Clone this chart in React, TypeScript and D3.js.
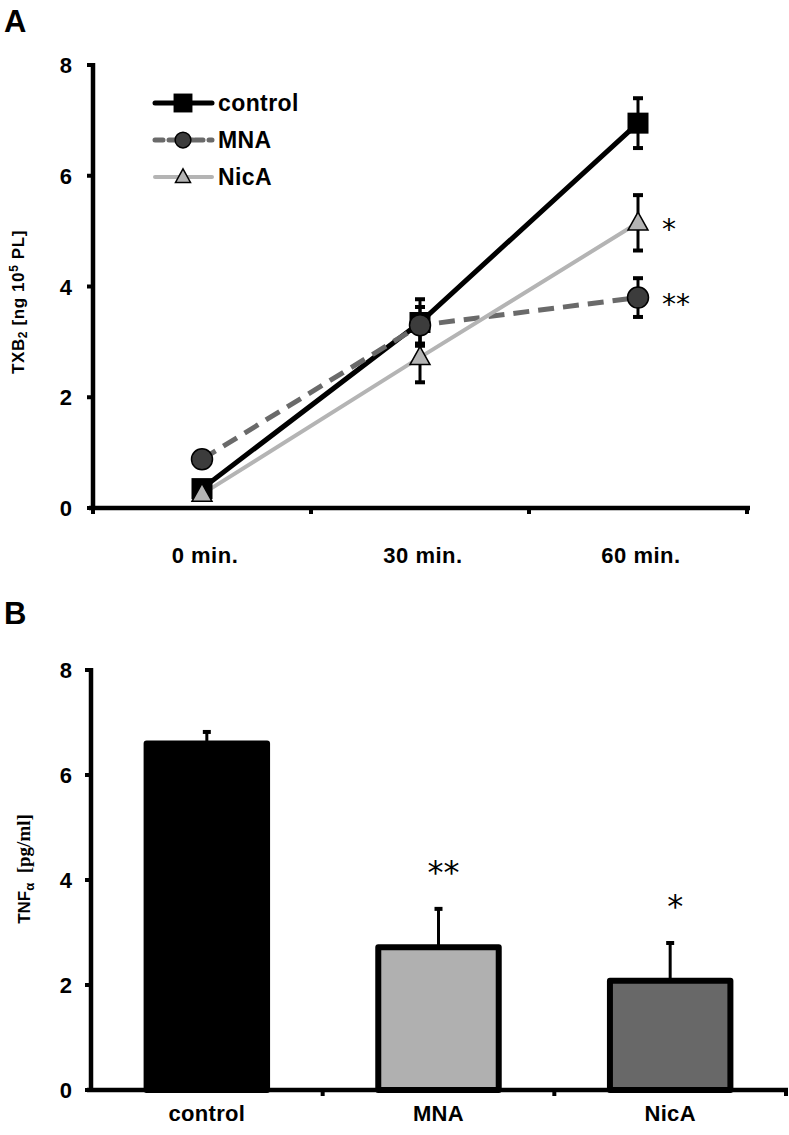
import React from "react";
import * as d3 from "d3";

const timePoints = ["0 min.", "30 min.", "60 min."];
const controlMean = [0.35, 3.35, 6.95];
const controlErr = [0, 0.42, 0.45];
const mnaMean = [0.88, 3.3, 3.8];
const mnaErr = [0, 0.33, 0.35];
const nicaMean = [0.25, 2.72, 5.15];
const nicaErr = [0, 0.45, 0.5];
const yTicksA = [0, 2, 4, 6, 8];

const groups = ["control", "MNA", "NicA"];
const tnfMean = [6.6, 2.72, 2.08];
const tnfErr = [0.22, 0.73, 0.72];
const tnfSig = ["", "**", "*"];
const yTicksB = [0, 2, 4, 6, 8];

const FONT = "Arial, 'Liberation Sans', sans-serif";

export default function App() {
  // Panel A scales
  const xA = d3.scaleBand().domain(timePoints).range([93, 747]);
  const yA = d3.scaleLinear().domain([0, 8]).range([508, 65]);
  const cx = (t: string) => (xA(t) as number) + xA.bandwidth() / 2;

  const seriesA = [
    { name: "control", mean: controlMean, err: controlErr, color: "#000", width: 5, dash: "", marker: "square", fill: "#000" },
    { name: "MNA", mean: mnaMean, err: mnaErr, color: "#6a6a6a", width: 5, dash: "16 9", marker: "circle", fill: "#3c3c3c" },
    { name: "NicA", mean: nicaMean, err: nicaErr, color: "#b4b4b4", width: 4, dash: "", marker: "triangle", fill: "#b4b4b4" },
  ];
  const sigA = [
    { series: 2, text: "*" },
    { series: 1, text: "**" },
  ];

  const line = d3
    .line<number>()
    .x((_, i) => cx(timePoints[i]))
    .y((d) => yA(d));

  const marker = (type: string, x: number, y: number, fill: string, key: string, s = 1) => {
    if (type === "square")
      return <rect key={key} x={x - 10.5 * s} y={y - 10.5 * s} width={21 * s} height={21 * s} fill="#000" />;
    if (type === "circle")
      return <circle key={key} cx={x} cy={y} r={10.5 * s} fill={fill} stroke="#000" strokeWidth={1.5} />;
    const h = 18 * s;
    const w = 10 * s;
    return (
      <path
        key={key}
        d={`M${x},${y - h * 0.6} L${x + w},${y + h * 0.4} L${x - w},${y + h * 0.4} Z`}
        fill={fill}
        stroke="#000"
        strokeWidth={1.5}
      />
    );
  };

  // Panel B scales
  const xB = d3.scaleBand().domain(groups).range([91, 786]).paddingInner(0.48).paddingOuter(0.24);
  const yB = d3.scaleLinear().domain([0, 8]).range([1090, 670]);
  const barFill = ["#000", "#b0b0b0", "#686868"];

  return (
    <svg
      width={789}
      height={1135}
      style={{ position: "absolute", left: 0, top: 0, background: "#fff" }}
      fontFamily={FONT}
    >
      {/* Panel A */}
      <text x={4} y={32} fontSize={31} fontWeight="bold">A</text>
      <text
        transform={`translate(24,302) rotate(-90)`}
        textAnchor="middle"
        fontSize={17}
        fontWeight="bold"
        letterSpacing={0.6}
      >
        TXB<tspan fontSize={12} dy={3}>2</tspan>
        <tspan dy={-3}> [ng 10</tspan>
        <tspan fontSize={12} dy={-6}>5</tspan>
        <tspan dy={6}> PL]</tspan>
      </text>

      {/* axes A */}
      <line x1={93} x2={93} y1={yA(8) - 2} y2={yA(0) + 2} stroke="#000" strokeWidth={4.5} />
      <line x1={89} x2={750} y1={yA(0)} y2={yA(0)} stroke="#000" strokeWidth={4.5} />
      {yTicksA.map((t) => (
        <g key={"ya" + t}>
          <line x1={87} x2={93} y1={yA(t)} y2={yA(t)} stroke="#000" strokeWidth={4} />
          <text x={72} y={yA(t) + 8} textAnchor="end" fontSize={22} fontWeight="bold">{t}</text>
        </g>
      ))}
      {[...timePoints.map((t) => xA(t) as number), 747].map((x, i) => (
        <line key={"xta" + i} x1={x} x2={x} y1={yA(0)} y2={yA(0) + 6} stroke="#000" strokeWidth={4} />
      ))}
      {timePoints.map((t) => (
        <text key={"xla" + t} x={cx(t) + 3} y={563} textAnchor="middle" fontSize={22} fontWeight="bold" letterSpacing={0.5}>{t}</text>
      ))}

      {/* lines */}
      {seriesA.map((s) => (
        <path
          key={"l" + s.name}
          d={line(s.mean) || ""}
          fill="none"
          stroke={s.color}
          strokeWidth={s.width}
          strokeDasharray={s.dash}
        />
      ))}
      {/* error bars */}
      {seriesA.map((s) =>
        s.mean.map((m, i) =>
          s.err[i] > 0 ? (
            <g key={"e" + s.name + i}>
              <line x1={cx(timePoints[i])} x2={cx(timePoints[i])} y1={yA(m + s.err[i])} y2={yA(m - s.err[i])} stroke="#000" strokeWidth={3} />
              <line x1={cx(timePoints[i]) - 5} x2={cx(timePoints[i]) + 5} y1={yA(m + s.err[i])} y2={yA(m + s.err[i])} stroke="#000" strokeWidth={4} />
              <line x1={cx(timePoints[i]) - 5} x2={cx(timePoints[i]) + 5} y1={yA(m - s.err[i])} y2={yA(m - s.err[i])} stroke="#000" strokeWidth={4} />
            </g>
          ) : null
        )
      )}
      {/* markers */}
      {seriesA.map((s) =>
        s.mean.map((m, i) => marker(s.marker, cx(timePoints[i]), yA(m), s.fill, "m" + s.name + i))
      )}
      {sigA.map((g) => {
        const s = seriesA[g.series];
        return (
          <text key={"sa" + g.text} x={cx(timePoints[2]) + 24} y={yA(s.mean[2]) + 16} fontSize={28} fontFamily="'DejaVu Sans', sans-serif">
            {g.text}
          </text>
        );
      })}

      {/* legend */}
      {seriesA.map((s, i) => {
        const y = 103 + i * 37;
        return (
          <g key={"lg" + s.name}>
            <line x1={155} x2={212} y1={y} y2={y} stroke={s.color} strokeWidth={s.width} strokeDasharray={s.dash ? "8 6 14 6 4 2" : ""} strokeLinecap="round" />
            {marker(s.marker, 183, y, s.fill, "lm" + s.name, s.marker === "square" ? 0.9 : 0.75)}
            <text x={218} y={y + 8} fontSize={23} fontWeight="bold" letterSpacing={0.4}>{s.name}</text>
          </g>
        );
      })}

      {/* Panel B */}
      <text x={4} y={624} fontSize={31} fontWeight="bold">B</text>
      <text transform={`translate(30,869) rotate(-90)`} textAnchor="middle" fontSize={17} fontWeight="bold">
        TNF<tspan fontSize={13} dy={4}>α</tspan>
        <tspan dy={-4} fontFamily="'Liberation Serif', 'Times New Roman', serif" fontSize={19}>{"\u00a0\u00a0[pg/ml]"}</tspan>
      </text>

      {/* bars */}
      {groups.map((g, i) => {
        const x = xB(g) as number;
        const w = xB.bandwidth();
        const cxB = x + w / 2;
        return (
          <g key={"b" + g}>
            <line x1={cxB} x2={cxB} y1={yB(tnfMean[i] + tnfErr[i])} y2={yB(tnfMean[i])} stroke="#000" strokeWidth={3} />
            <line x1={cxB - 4} x2={cxB + 4} y1={yB(tnfMean[i] + tnfErr[i])} y2={yB(tnfMean[i] + tnfErr[i])} stroke="#000" strokeWidth={4} />
            <rect x={x} y={yB(tnfMean[i])} width={w} height={yB(0) - yB(tnfMean[i])} fill={barFill[i]} stroke="#000" strokeWidth={6} strokeLinejoin="round" />
            {tnfSig[i] && (
              <text x={cxB + 5} y={yB(tnfMean[i] + tnfErr[i]) - 26} textAnchor="middle" fontSize={32} fontFamily="'DejaVu Sans', sans-serif">
                {tnfSig[i]}
              </text>
            )}
            <text x={cxB} y={1121} textAnchor="middle" fontSize={22} fontWeight="bold" letterSpacing={0.3}>{g}</text>
          </g>
        );
      })}

      {/* axes B */}
      <line x1={91} x2={91} y1={yB(8) - 2} y2={yB(0) + 2} stroke="#000" strokeWidth={4.5} />
      <line x1={87} x2={788} y1={yB(0)} y2={yB(0)} stroke="#000" strokeWidth={4.5} />
      {yTicksB.map((t) => (
        <g key={"yb" + t}>
          <line x1={85} x2={91} y1={yB(t)} y2={yB(t)} stroke="#000" strokeWidth={4} />
          <text x={72} y={yB(t) + 8} textAnchor="end" fontSize={22} fontWeight="bold">{t}</text>
        </g>
      ))}
      {[91 + (786 - 91) / 3, 91 + (2 * (786 - 91)) / 3, 786].map((x, i) => (
        <line key={"xtb" + i} x1={x} x2={x} y1={yB(0)} y2={yB(0) + 6} stroke="#000" strokeWidth={4} />
      ))}
    </svg>
  );
}
